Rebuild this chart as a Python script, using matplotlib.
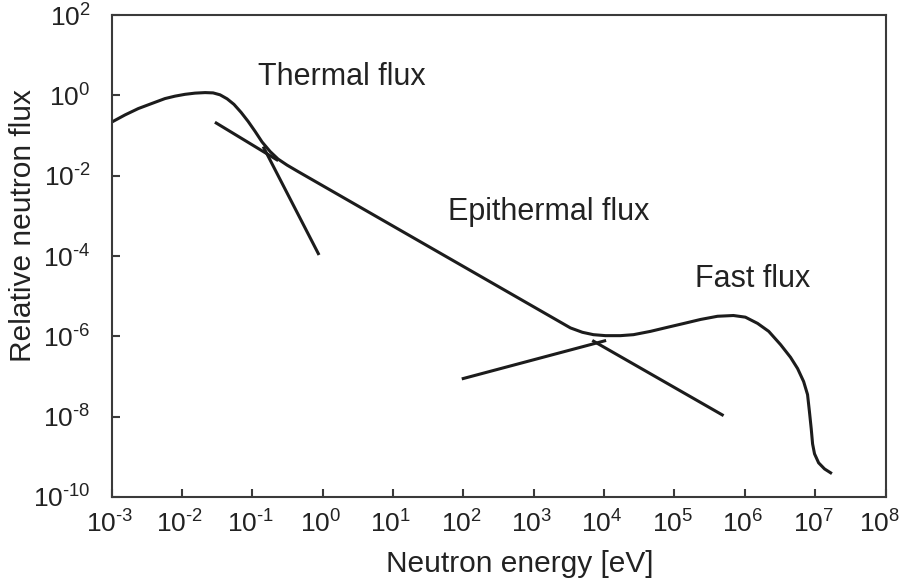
import math
import matplotlib
matplotlib.use("Agg")
import matplotlib.pyplot as plt
from matplotlib.ticker import FixedLocator, FuncFormatter, NullLocator
from matplotlib.transforms import ScaledTranslation

plt.rcParams["font.family"] = ["Liberation Sans", "DejaVu Sans"]
plt.rcParams["mathtext.fontset"] = "custom"
plt.rcParams["mathtext.rm"] = "Liberation Sans"
plt.rcParams["mathtext.it"] = "Liberation Sans:italic"
plt.rcParams["mathtext.bf"] = "Liberation Sans:bold"

# Neutron flux spectrum (energy in eV, relative flux)
energy = [1.0e-3, 1.56e-3, 2.4e-3, 3.77e-3, 5.75e-3, 8.0e-3, 1.11e-2, 1.54e-2,
          2.14e-2, 2.78e-2, 3.49e-2, 4.4e-2, 5.5e-2, 6.95e-2, 8.75e-2, 0.11,
          0.138, 0.18, 0.233, 0.313, 0.45,
          3.33e3, 4.93e3, 7.06e3, 1.05e4, 1.71e4, 2.62e4, 4.57e4, 7.98e4,
          1.39e5, 2.35e5, 4.1e5, 6.9e5,
          1.02e6, 1.52e6, 2.19e6, 3.23e6, 4.47e6, 5.63e6, 6.86e6, 7.8e6,
          8.3e6, 8.8e6, 9.2e6, 9.8e6, 1.12e7, 1.36e7, 1.66e7]
flux = [0.214, 0.326, 0.468, 0.63, 0.83, 0.955, 1.06, 1.135,
        1.17, 1.15, 1.03, 0.818, 0.596, 0.376, 0.224, 0.126,
        6.9e-2, 3.98e-2, 2.59e-2, 1.83e-2, 1.26e-2,
        1.62e-6, 1.26e-6, 1.1e-6, 1.04e-6, 1.04e-6, 1.1e-6, 1.33e-6, 1.68e-6,
        2.11e-6, 2.63e-6, 3.16e-6, 3.3e-6,
        3.0e-6, 2.1e-6, 1.33e-6, 6.2e-7, 3.0e-7, 1.58e-7, 7.5e-8, 3.55e-8,
        1.33e-8, 5.0e-9, 2.1e-9, 1.19e-9, 7.1e-10, 5.0e-10, 4.0e-10]

# Asymptotic component lines
thermal_a_e = [2.95e-2, 0.234]
thermal_a_f = [0.214, 2.37e-2]
thermal_b_e = [0.143, 0.89]
thermal_b_f = [5.3e-2, 1.06e-4]
fast_e = [95.0, 1.07e4]
fast_f = [8.7e-8, 7.9e-7]
epi_e = [6.8e3, 5.0e5]
epi_f = [7.9e-7, 1.06e-8]

x_ticks = [1e-3, 1e-2, 1e-1, 1e0, 1e1, 1e2, 1e3, 1e4, 1e5, 1e6, 1e7, 1e8]
y_ticks = [1e2, 1e0, 1e-2, 1e-4, 1e-6, 1e-8, 1e-10]

W, H = 901, 586
fig = plt.figure(figsize=(W / 100, H / 100), dpi=100)
ax = fig.add_axes([111.5 / W, 1 - 497 / H, 774 / W, 482 / H])

line_color = "#1c1c1c"
lw = 2.2
ax.plot(energy, flux, color=line_color, lw=lw, solid_joinstyle="round")
for xs, ys in [(thermal_a_e, thermal_a_f), (thermal_b_e, thermal_b_f),
               (fast_e, fast_f), (epi_e, epi_f)]:
    ax.plot(xs, ys, color=line_color, lw=lw, solid_capstyle="butt")

ax.set_xscale("log")
ax.set_yscale("log")
ax.set_xlim(1e-3, 1e8)
ax.set_ylim(1e-10, 1e2)


def pow_label(v, pos):
    e = int(round(math.log10(v)))
    s = str(e).replace("-", r"\text{-}")
    return r"$\mathregular{10^{%s}}$" % s


ax.xaxis.set_major_locator(FixedLocator(x_ticks))
ax.yaxis.set_major_locator(FixedLocator(y_ticks))
ax.xaxis.set_minor_locator(NullLocator())
ax.yaxis.set_minor_locator(NullLocator())
ax.xaxis.set_major_formatter(FuncFormatter(pow_label))
ax.yaxis.set_major_formatter(FuncFormatter(pow_label))

spine_color = "#3a3a3a"
for sp in ax.spines.values():
    sp.set_color(spine_color)
    sp.set_linewidth(1.5)
ax.tick_params(axis="both", which="major", direction="in", length=6, width=1.5,
               color=spine_color, labelsize=19, labelcolor="#222222",
               top=False, right=False)
ax.tick_params(axis="x", pad=10)
ax.tick_params(axis="y", pad=15)

# nudge the energy labels slightly left so the last one stays inside
xlabels = ax.get_xticklabels()
for i, lab in enumerate(xlabels):
    dx = -6 if i == len(xlabels) - 1 else -2
    lab.set_transform(lab.get_transform() + ScaledTranslation(dx / 100, 0, fig.dpi_scale_trans))

txt = "#222222"
ax.text(0.189, 0.855, "Thermal flux", transform=ax.transAxes, fontsize=22,
        color=txt, ha="left", va="baseline")
ax.text(0.435, 0.575, "Epithermal flux", transform=ax.transAxes, fontsize=22,
        color=txt, ha="left", va="baseline")
ax.text(0.754, 0.436, "Fast flux", transform=ax.transAxes, fontsize=22,
        color=txt, ha="left", va="baseline")

fig.text(519.5 / W, 1 - 572 / H, "Neutron energy [eV]", fontsize=21.5,
         color=txt, ha="center", va="baseline")
fig.text(22.8 / W, 1 - 225 / H, "Relative neutron flux", fontsize=21.5,
         color=txt, ha="center", va="center", rotation=90)

fig.savefig("out.png", dpi=100)
